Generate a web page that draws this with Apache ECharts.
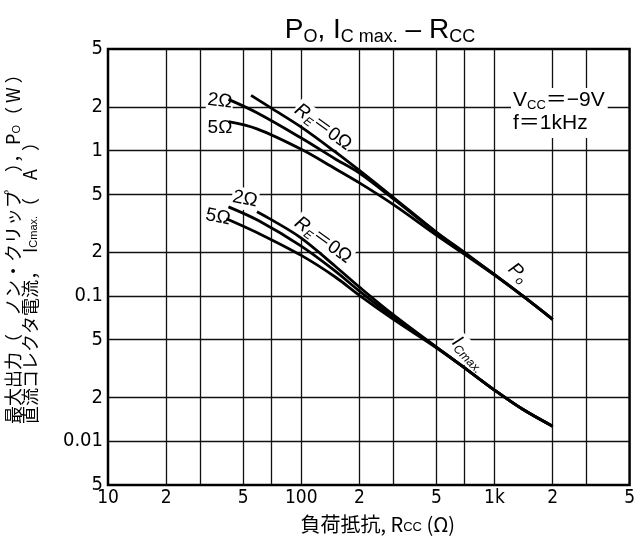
<!DOCTYPE html>
<html>
<head>
<meta charset="utf-8">
<script src="https://cdn.jsdelivr.net/npm/echarts@6/dist/echarts.min.js"></script>
<style>
  html, body { margin: 0; padding: 0; background: #fff; }
  #chart { width: 638px; height: 554px; }
</style>
</head>
<body>
<div id="chart"></div>
<script>
// load resistance Rcc (ohm), log axis
const xTickVals = [10, 20, 50, 100, 200, 500, 1000, 2000, 5000];
const xTickText = ['10', '2', '5', '100', '2', '5', '1k', '2', '5'];
const xGridVals = [20, 30, 50, 70, 100, 200, 300, 500, 700, 1000, 2000, 3000];

// Po (W) / Ic max. (A), log axis
const yTickVals = [0.005, 0.01, 0.02, 0.05, 0.1, 0.2, 0.5, 1, 2, 5];
const yTickText = ['5', '0.01', '2', '5', '0.1', '2', '5', '1', '2', '5'];
const yGridVals = [0.01, 0.02, 0.05, 0.1, 0.2, 0.5, 1, 2];

// Po curves
const poRe0R = [55, 70, 100, 150, 200, 300, 500, 700, 1000, 1400, 2000];
const poRe0 = [2.4, 1.96, 1.45, 0.98, 0.73, 0.475, 0.275, 0.199, 0.14, 0.1, 0.069];
const po2R = [42, 59, 100, 150, 200, 300, 500, 700, 1000, 1400, 2000];
const po2 = [2.25, 1.82, 1.22, 0.876, 0.70, 0.465, 0.273, 0.197, 0.14, 0.1, 0.069];
const po5R = [42, 59, 100, 150, 200, 300, 500, 700, 1000, 1400, 2000];
const po5 = [1.58, 1.41, 1.02, 0.75, 0.60, 0.425, 0.262, 0.193, 0.139, 0.1, 0.069];

// Ic max. curves
const icRe0R = [59, 70, 100, 150, 200, 300, 500, 700, 1000, 1400, 2000];
const icRe0 = [0.38, 0.335, 0.25, 0.16, 0.115, 0.074, 0.0445, 0.032, 0.0225, 0.0166, 0.0127];
const ic2R = [42, 60, 100, 150, 200, 300, 500, 700, 1000, 1400, 2000];
const ic2 = [0.41, 0.33, 0.22, 0.148, 0.108, 0.0715, 0.0445, 0.032, 0.0225, 0.0166, 0.0127];
const ic5R = [41, 60, 100, 150, 200, 300, 500, 700, 1000, 1400, 2000];
const ic5 = [0.34, 0.27, 0.19, 0.135, 0.101, 0.069, 0.044, 0.032, 0.0225, 0.0166, 0.0127];

const numFont = "'Liberation Sans Narrow', 'DejaVu Sans Condensed', 'Liberation Sans', sans-serif";
const txtFont = "'Liberation Sans', 'Noto Sans CJK JP', sans-serif";
const jpFont = "'Noto Sans CJK JP', sans-serif";

function pick(vals, texts) {
  return v => {
    for (let i = 0; i < vals.length; i++) {
      if (Math.abs(v - vals[i]) <= vals[i] * 1e-6) return texts[i];
    }
    return '';
  };
}

function zip(xs, ys) {
  return xs.map((x, i) => [x, ys[i]]);
}

function curve(name, xs, ys) {
  return {
    name: name,
    type: 'line',
    data: zip(xs, ys),
    symbol: 'none',
    smooth: 0.35,
    silent: true,
    z: 3,
    lineStyle: { color: '#000', width: 2.8 }
  };
}

const sub = {
  b: { fontSize: 19, lineHeight: 22, fontFamily: txtFont, color: '#000' },
  i: { fontSize: 19, lineHeight: 22, fontFamily: txtFont, fontStyle: 'italic', color: '#000' },
  s: { fontSize: 12, lineHeight: 12, verticalAlign: 'bottom', fontFamily: txtFont, fontStyle: 'italic', color: '#000' },
  u: { fontSize: 13, lineHeight: 12, verticalAlign: 'bottom', fontFamily: txtFont, color: '#000' }
};

function label(x, y, rot, text) {
  return {
    type: 'text',
    x: x,
    y: y,
    rotation: rot,
    z: 1,
    style: {
      text: text,
      rich: sub,
      align: 'center',
      verticalAlign: 'middle',
      backgroundColor: '#fff',
      padding: [0, 1]
    }
  };
}

const chart = echarts.init(document.getElementById('chart'));

chart.setOption({
  backgroundColor: '#fff',
  animation: false,
  grid: {
    left: 108, right: 3, top: 49, bottom: 69,
    show: true, borderColor: '#000', borderWidth: 2.5
  },
  xAxis: {
    type: 'log',
    logBase: 10,
    min: 10,
    max: 5000,
    axisLine: { show: false },
    axisTick: { show: false, customValues: xGridVals },
    splitLine: { show: true, lineStyle: { color: '#111', width: 1.3 } },
    axisLabel: {
      customValues: xTickVals,
      formatter: pick(xTickVals, xTickText),
      color: '#000', fontSize: 19, fontFamily: numFont, margin: 4
    },
    name: '負荷抵抗, R{u|CC} (Ω)',
    nameLocation: 'middle',
    nameGap: 29,
    nameTextStyle: {
      color: '#000', fontSize: 20, fontFamily: jpFont,
      padding: [0, 0, 0, 18],
      rich: { u: { fontSize: 13, verticalAlign: 'bottom', lineHeight: 12, color: '#000', fontFamily: txtFont } }
    }
  },
  yAxis: {
    type: 'log',
    logBase: 10,
    min: 0.005,
    max: 5,
    axisLine: { show: false },
    axisTick: { show: false, customValues: yGridVals },
    splitLine: { show: true, lineStyle: { color: '#111', width: 1.3 } },
    axisLabel: {
      customValues: yTickVals,
      formatter: pick(yTickVals, yTickText),
      color: '#000', fontSize: 20, fontFamily: numFont, margin: 5
    }
  },
  graphic: [
    {
      type: 'text', x: 380, y: 30, z: 1,
      style: {
        text: '{b|P}{s|O}{b|, I}{s|C max.}{b| – R}{s|CC}',
        align: 'center', verticalAlign: 'middle',
        rich: {
          b: { fontSize: 28, lineHeight: 32, fontFamily: txtFont, color: '#000' },
          s: { fontSize: 18, lineHeight: 18, verticalAlign: 'bottom', fontFamily: txtFont, color: '#000' }
        }
      }
    },
    {
      type: 'text', x: 22, y: 424, rotation: Math.PI / 2, z: 1,
      style: {
        text: '{j|最大出力（\u3000ノン・クリップ\u3000），P}{js|O}{j|（ W ）}\n' +
              '{j|直流コレクタ電流，\u3000I}{js|Cmax.}{j|（\u3000A\u3000）}',
        align: 'left', verticalAlign: 'middle',
        rich: {
          j: { fontSize: 18, lineHeight: 17, fontFamily: jpFont, color: '#000' },
          js: { fontSize: 11, lineHeight: 11, verticalAlign: 'bottom', fontFamily: txtFont, color: '#000' }
        }
      }
    },
    {
      type: 'text', x: 511, y: 88, z: 1,
      style: {
        text: '{m|V}{u|CC}{m|＝−9V}\n{m|f＝1kHz}',
        align: 'left', verticalAlign: 'top',
        backgroundColor: '#fff',
        padding: [1, 3, 3, 2],
        rich: {
          m: { fontSize: 21, lineHeight: 23, fontFamily: txtFont, color: '#000' },
          u: { fontSize: 13, lineHeight: 13, verticalAlign: 'bottom', fontFamily: txtFont, color: '#000' }
        }
      }
    },
    label(220, 101, -0.12, '{b|2Ω}'),
    label(220, 128, 0, '{b|5Ω}'),
    label(245, 199, -0.2, '{b|2Ω}'),
    label(218, 217, -0.2, '{b|5Ω}'),
    label(323, 127, -0.63, '{i|R}{s|E}{b|＝0Ω}'),
    label(323, 240, -0.63, '{i|R}{s|E}{b|＝0Ω}'),
    label(518, 273, -0.75, '{i|P}{s|o}'),
    label(469, 354, -0.8, '{i|I}{s|Cmax.}')
  ],
  series: [
    curve('Po RE=0', poRe0R, poRe0),
    curve('Po 2', po2R, po2),
    curve('Po 5', po5R, po5),
    curve('Ic RE=0', icRe0R, icRe0),
    curve('Ic 2', ic2R, ic2),
    curve('Ic 5', ic5R, ic5)
  ]
});
</script>
</body>
</html>
